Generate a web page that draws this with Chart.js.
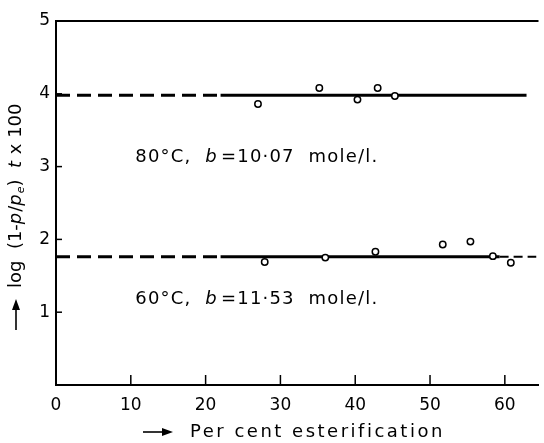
<!DOCTYPE html>
<html><head><meta charset="utf-8">
<script src="https://cdn.jsdelivr.net/npm/chart.js@4"></script>
<style>html,body{margin:0;padding:0;background:#fff}</style>
</head><body>
<canvas id="c" width="544" height="443" style="width:544px;height:443px;display:block"></canvas>
<script>
// ---- data ----
const xTicks = [0, 10, 20, 30, 40, 50, 60];
const yTicks = [1, 2, 3, 4, 5];
const x80 = [27.0, 35.2, 40.3, 43.0, 45.3];
const y80 = [3.86, 4.08, 3.92, 4.08, 3.97];
const x60 = [27.9, 36.0, 42.7, 51.7, 55.4, 58.4, 60.8];
const y60 = [1.69, 1.75, 1.83, 1.93, 1.97, 1.77, 1.68];
const fit80 = 3.98;
const fit60 = 1.76;
const fitDashStart = 0, fitSolidStart = 22;
const fitEnd80 = 62.9;
const fitSolidEnd60 = 59.3, fitEnd60 = 64.2;
const label80 = ['80°C,  ', 'b', '=10·07  mole/l.'];
const label60 = ['60°C,  ', 'b', '=11·53  mole/l.'];
const xTitle = 'Per cent esterification';

const FONT = '"DejaVu Sans", "Liberation Sans", sans-serif';
const pts = (xs, ys) => xs.map((x, i) => ({x, y: ys[i]}));
const seg = (a, b, y) => [{x: a, y}, {x: b, y}];

const pointStyle = {showLine: false, pointRadius: 3.2, pointBorderWidth: 1.5,
  pointBorderColor: '#000', pointBackgroundColor: '#fff', borderColor: '#000', backgroundColor: '#fff'};
const lineStyle = {showLine: true, pointRadius: 0, borderColor: '#000', borderWidth: 3, fill: false};

const extras = {
  id: 'extras',
  afterDraw(chart) {
    const ctx = chart.ctx, a = chart.chartArea;
    const xs = chart.scales.x, ys = chart.scales.y;
    ctx.save();
    ctx.strokeStyle = '#000'; ctx.fillStyle = '#000';
    // top frame line
    ctx.lineWidth = 2;
    ctx.beginPath(); ctx.moveTo(a.left, a.top); ctx.lineTo(a.right, a.top); ctx.stroke();
    // inward ticks
    ctx.lineWidth = 1.5;
    xTicks.forEach(v => { if (v === 0) return; const p = xs.getPixelForValue(v);
      ctx.beginPath(); ctx.moveTo(p, a.bottom); ctx.lineTo(p, a.bottom - 10); ctx.stroke(); });
    yTicks.forEach(v => { const p = ys.getPixelForValue(v);
      ctx.beginPath(); ctx.moveTo(a.left, p); ctx.lineTo(a.left + 6, p); ctx.stroke(); });

    // annotations
    const drawRuns = (runs, x, y) => {
      ctx.textBaseline = 'middle'; ctx.textAlign = 'left';
      ctx.letterSpacing = '1.2px';
      let px = x;
      runs.forEach((r, i) => {
        ctx.font = (i === 1 ? 'italic ' : '') + '18px ' + FONT;
        ctx.fillText(r, px, y); px += ctx.measureText(r).width + (i === 1 ? 3 : 0);
      });
      ctx.letterSpacing = '0px';
    };
    drawRuns(label80, xs.getPixelForValue(10.6), ys.getPixelForValue(3.13));
    drawRuns(label60, xs.getPixelForValue(10.6), ys.getPixelForValue(1.17));

    // x title with arrow
    const ty = 432;
    ctx.lineWidth = 1.6;
    ctx.beginPath(); ctx.moveTo(143, ty); ctx.lineTo(164, ty); ctx.stroke();
    ctx.beginPath(); ctx.moveTo(162, ty - 4); ctx.lineTo(173, ty); ctx.lineTo(162, ty + 4); ctx.closePath(); ctx.fill();
    ctx.font = '18px ' + FONT; ctx.textBaseline = 'middle'; ctx.textAlign = 'left';
    ctx.letterSpacing = '2.5px';
    ctx.fillText(xTitle, 190, ty);
    ctx.letterSpacing = '0px';

    // y title (rotated) with arrow
    ctx.translate(16, 330); ctx.rotate(-Math.PI / 2);
    ctx.beginPath(); ctx.moveTo(0, 0); ctx.lineTo(22, 0); ctx.stroke();
    ctx.beginPath(); ctx.moveTo(20, -4); ctx.lineTo(31, 0); ctx.lineTo(20, 4); ctx.closePath(); ctx.fill();
    const runs = [['log  (1-', 'n'], ['p', 'i'], ['/', 'n'], ['p', 'i'], ['e', 's'], [')  ', 'n'], ['t', 'i'], [' x 100', 'n']];
    let pos = 42;
    runs.forEach(([t, k]) => {
      if (k === 's') { ctx.font = 'italic 11px ' + FONT; ctx.fillText(t, pos, 5); }
      else { ctx.font = (k === 'i' ? 'italic ' : '') + '18px ' + FONT; ctx.fillText(t, pos, 0); }
      pos += ctx.measureText(t).width + (k === 'i' ? 1 : 0);
    });
    ctx.restore();
  }
};

new Chart(document.getElementById('c'), {
  type: 'scatter',
  data: {
    datasets: [
      {data: pts(x80, y80), ...pointStyle},
      {data: pts(x60, y60), ...pointStyle},
      {data: seg(fitDashStart, fitSolidStart, fit80), ...lineStyle, borderDash: [14, 7]},
      {data: seg(fitSolidStart, fitEnd80, fit80), ...lineStyle},
      {data: seg(fitDashStart, fitSolidStart, fit60), ...lineStyle, borderDash: [14, 7]},
      {data: seg(fitSolidStart, fitSolidEnd60, fit60), ...lineStyle},
      {data: seg(fitSolidEnd60, fitEnd60, fit60), ...lineStyle, borderWidth: 2, borderDash: [9, 5]}
    ]
  },
  options: {
    responsive: false, animation: false, devicePixelRatio: 1,
    layout: {padding: {top: 21, right: 3, left: 0, bottom: 0}},
    plugins: {legend: {display: false}, tooltip: {enabled: false}},
    scales: {
      x: {
        type: 'linear', min: 0, max: 64.5,
        afterBuildTicks: s => { s.ticks = xTicks.map(v => ({value: v})); },
        afterFit: s => { s.height = 58; },
        grid: {display: false, drawTicks: false},
        border: {display: true, color: '#000', width: 2},
        ticks: {color: '#000', padding: 10, font: {family: FONT, size: 17}, maxRotation: 0, autoSkip: false}
      },
      y: {
        type: 'linear', min: 0, max: 5,
        afterBuildTicks: s => { s.ticks = yTicks.map(v => ({value: v})); },
        afterFit: s => { s.width = 56; },
        grid: {display: false, drawTicks: false},
        border: {display: true, color: '#000', width: 2},
        ticks: {color: '#000', padding: 6, font: {family: FONT, size: 17}}
      }
    }
  },
  plugins: [extras]
});
</script>
</body></html>
